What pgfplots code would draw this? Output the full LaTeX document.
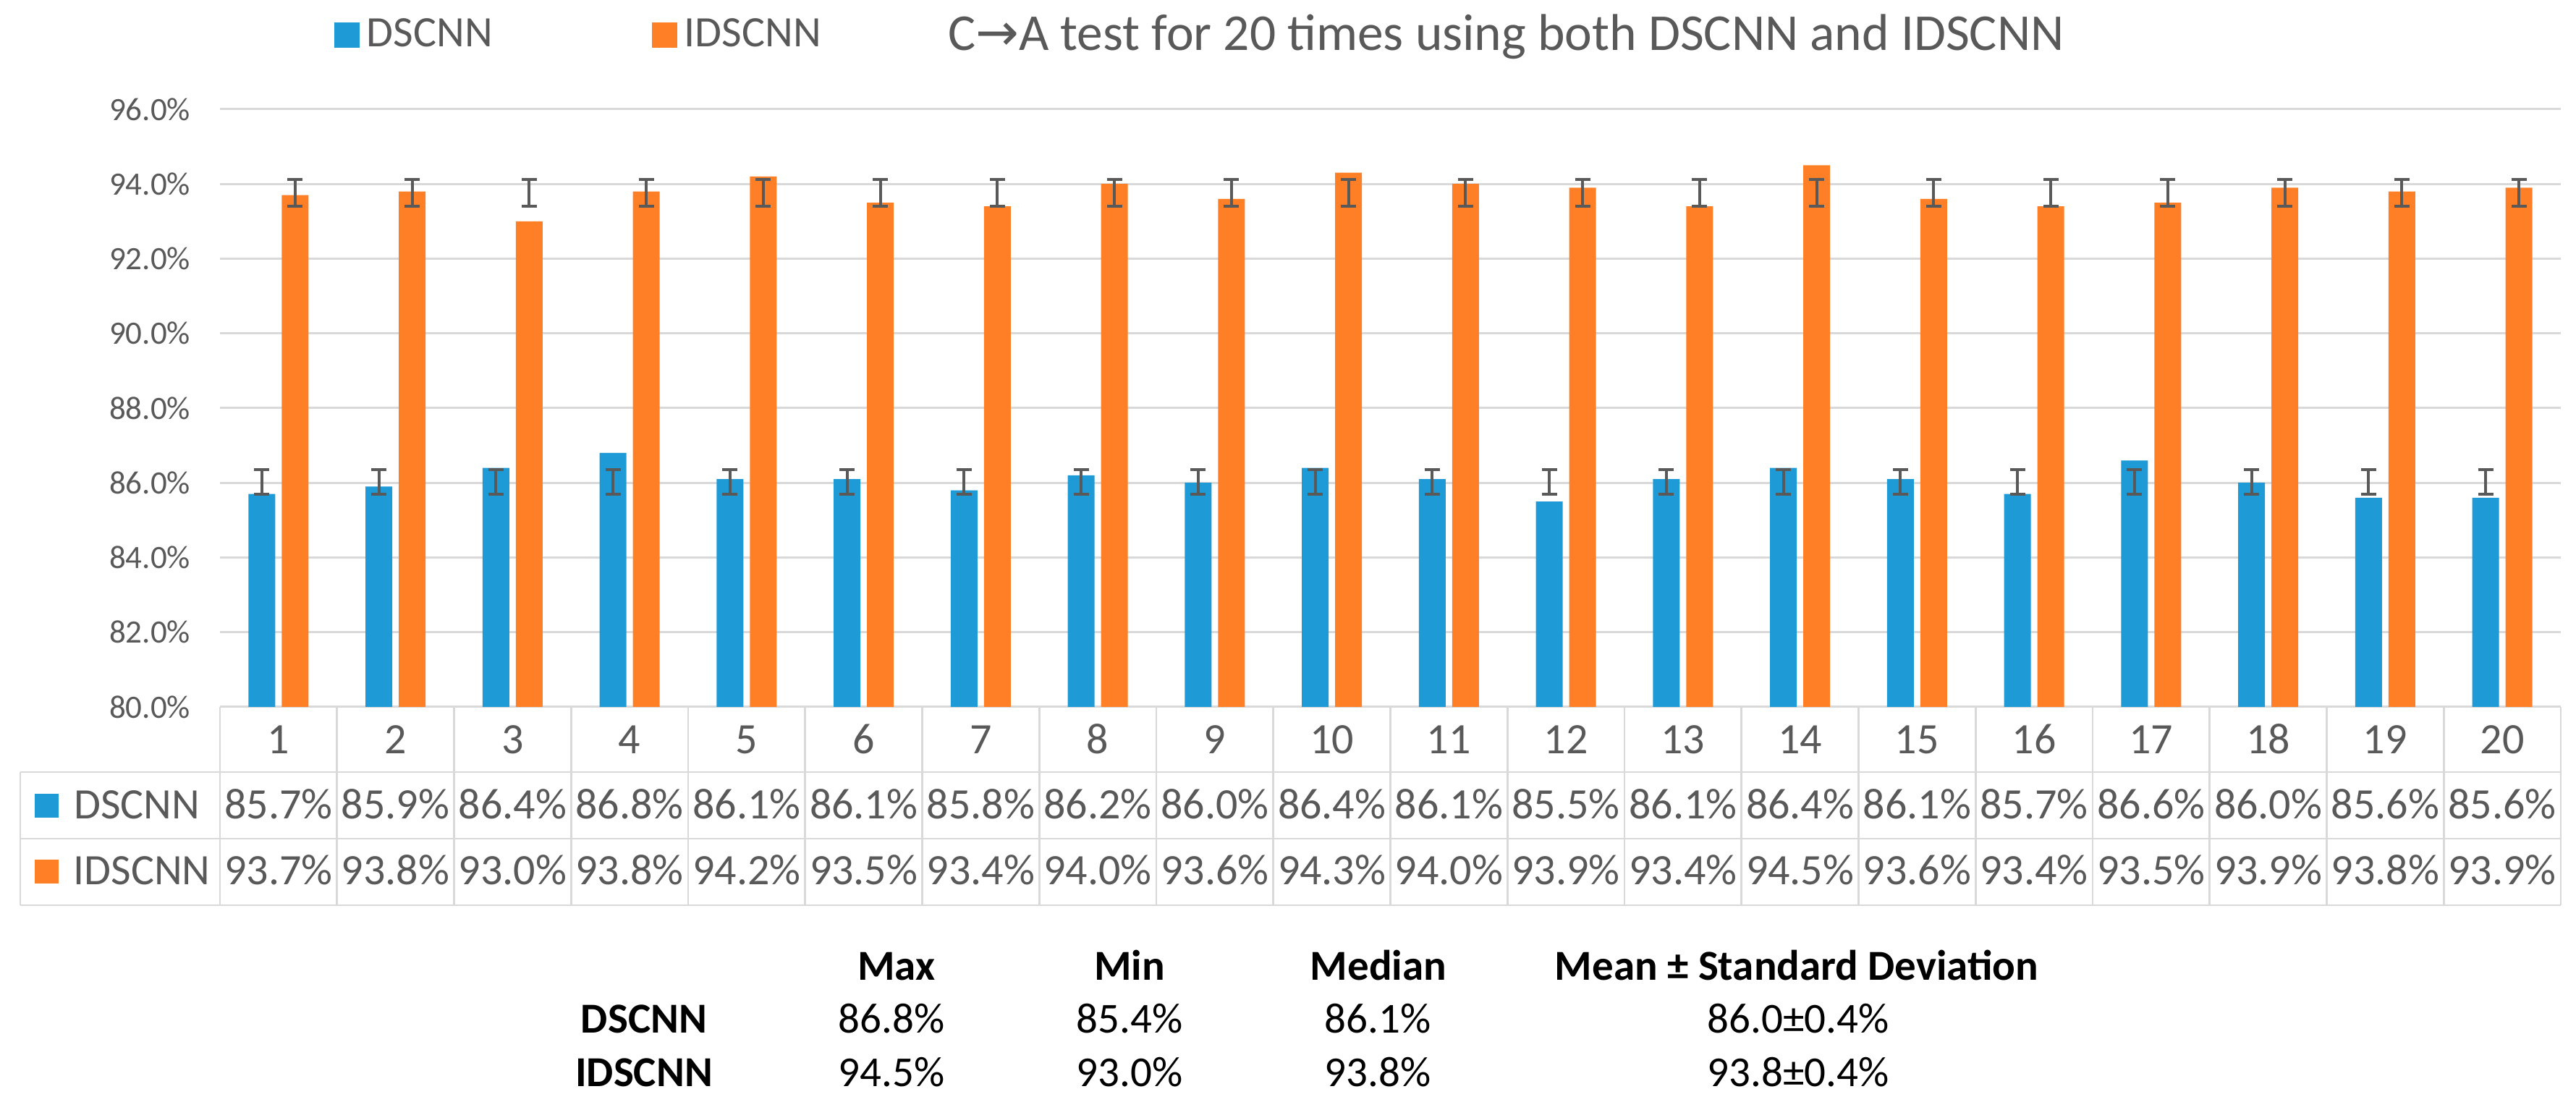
\documentclass[border=0pt]{standalone}
\usepackage{fontspec}
\setmainfont{Carlito}
\newfontfamily\dejavu{DejaVu Sans}
\usepackage{pgfplots}
\usepackage{pgfplotstable}
\pgfplotsset{compat=1.18}
\pgfkeys{/pgf/number format/assume math mode=true}

\definecolor{dsblue}{HTML}{1E9BD7}
\definecolor{idsorange}{HTML}{FF7F27}
\definecolor{txt}{HTML}{595959}
\definecolor{gridc}{HTML}{D9D9D9}
\definecolor{errc}{HTML}{595959}
\newcommand\fs[1]{\fontsize{#1}{#1}\selectfont}

% accuracy of each of the 20 runs (percent)
\pgfplotstableread{
run ds   ids
1   85.7 93.7
2   85.9 93.8
3   86.4 93.0
4   86.8 93.8
5   86.1 94.2
6   86.1 93.5
7   85.8 93.4
8   86.2 94.0
9   86.0 93.6
10  86.4 94.3
11  86.1 94.0
12  85.5 93.9
13  86.1 93.4
14  86.4 94.5
15  86.1 93.6
16  85.7 93.4
17  86.6 93.5
18  86.0 93.9
19  85.6 93.8
20  85.6 93.9
}\runs

\pgfplotsset{
  sqlegend/.style={legend image code/.code={\fill[##1] (0pt,-3.5pt) rectangle (7pt,3.5pt);}},
  errbar/.style={forget plot, draw=none, mark=none,
    error bars/.cd, y dir=both, y fixed=#1, error mark=-,
    error bar style={draw=errc, line width=0.8pt},
    error mark options={draw=errc, line width=0.8pt, mark size=2.1pt, rotate=90}},
}

\begin{document}
\begin{tikzpicture}
\path[use as bounding box] (0pt,0pt) rectangle (712pt,306.8pt);
\begin{axis}[
  at={(60.8pt,111.4pt)}, anchor=south west,
  width=647pt, height=165.2pt, scale only axis,
  xmin=0.5, xmax=20.5, ymin=80, ymax=96,
  xtick={1,...,20}, ytick={80,82,...,96},
  yticklabel={\pgfmathprintnumber[fixed,fixed zerofill,precision=1]{\tick}\%},
  yticklabel style={font=\fs{9}, text=txt, anchor=east, inner sep=0pt, xshift=-8pt},
  xticklabel style={font=\fs{12}, text=txt, anchor=base, inner sep=0pt, yshift=-13pt},
  major tick length=0pt,
  axis x line*=bottom, axis y line*=left,
  x axis line style={draw=gridc, line width=0.6pt},
  y axis line style={draw=none},
  ymajorgrids, grid style={draw=gridc, line width=0.6pt},
  clip=false,
  legend style={draw=none, fill=none, inner sep=0pt,
    at={(axis description cs:0.0485,1.1235)}, anchor=west,
    font=\fs{12}, text=txt,
    /tikz/every even column/.append style={column sep=42pt}},
  legend columns=-1,
]
\addplot[ybar, bar width=7.4pt, bar shift=-4.6pt, fill=dsblue, draw=none, sqlegend]
  table[x=run, y=ds] {\runs};
\addplot[ybar, bar width=7.4pt, bar shift=4.6pt, fill=idsorange, draw=none, sqlegend]
  table[x=run, y=ids] {\runs};
\legend{DSCNN, IDSCNN}

% error bars: mean +- standard deviation over the 20 runs,
% drawn at the centre of each bar (bar offset 4.6pt = 0.142 x units)
\addplot[errbar=0.33] coordinates {
  (0.858,86.03)(1.858,86.03)(2.858,86.03)(3.858,86.03)(4.858,86.03)
  (5.858,86.03)(6.858,86.03)(7.858,86.03)(8.858,86.03)(9.858,86.03)
  (10.858,86.03)(11.858,86.03)(12.858,86.03)(13.858,86.03)(14.858,86.03)
  (15.858,86.03)(16.858,86.03)(17.858,86.03)(18.858,86.03)(19.858,86.03)};
\addplot[errbar=0.36] coordinates {
  (1.142,93.76)(2.142,93.76)(3.142,93.76)(4.142,93.76)(5.142,93.76)
  (6.142,93.76)(7.142,93.76)(8.142,93.76)(9.142,93.76)(10.142,93.76)
  (11.142,93.76)(12.142,93.76)(13.142,93.76)(14.142,93.76)(15.142,93.76)
  (16.142,93.76)(17.142,93.76)(18.142,93.76)(19.142,93.76)(20.142,93.76)};
\end{axis}

% title
\node[anchor=base west, inner sep=0pt, font=\fs{14.3}, text=txt] at (261.8pt,292.8pt)
  {C{\dejavu →}A test for 20 times using both DSCNN and IDSCNN};

% data table under the axis
\begin{scope}[draw=gridc, line width=0.55pt]
  \draw (5.6pt,93.4pt) -- (707.8pt,93.4pt);
  \draw (5.6pt,75.0pt) -- (707.8pt,75.0pt);
  \draw (5.6pt,56.6pt) -- (707.8pt,56.6pt);
  \draw (5.6pt,56.6pt) -- (5.6pt,93.4pt);
  \foreach \k in {0,...,20} {
    \pgfmathsetmacro\lx{60.8+\k*32.35}
    \draw (\lx pt,56.6pt) -- (\lx pt,111.4pt);
  }
\end{scope}
\fill[dsblue] (9.5pt,80.8pt) rectangle (16.1pt,87.4pt);
\fill[idsorange] (9.5pt,62.6pt) rectangle (16.1pt,69.2pt);
\node[anchor=base west, inner sep=0pt, font=\fs{12}, text=txt] at (20.3pt,80.4pt) {DSCNN};
\node[anchor=base west, inner sep=0pt, font=\fs{12}, text=txt] at (20.1pt,62.2pt) {IDSCNN};
\foreach \r in {0,...,19} {
  \pgfmathsetmacro\cx{60.8+(\r+0.5)*32.35}
  \pgfplotstablegetelem{\r}{ds}\of\runs \edef\vds{\pgfplotsretval}
  \pgfplotstablegetelem{\r}{ids}\of\runs \edef\vids{\pgfplotsretval}
  \node[anchor=base, inner sep=0pt, font=\fs{12}, text=txt] at (\cx pt,80.4pt)
    {\pgfmathprintnumber[fixed,fixed zerofill,precision=1]{\vds}\%};
  \node[anchor=base, inner sep=0pt, font=\fs{12}, text=txt] at (\cx pt,62.2pt)
    {\pgfmathprintnumber[fixed,fixed zerofill,precision=1]{\vids}\%};
}

% summary statistics
\begin{scope}[every node/.style={anchor=base, inner sep=0pt, font=\fs{11.8}, text=black}]
  \node[font=\fs{11.8}\bfseries] at (247.8pt,35.8pt) {Max};
  \node[font=\fs{11.8}\bfseries] at (312.2pt,35.8pt) {Min};
  \node[font=\fs{11.8}\bfseries] at (381.0pt,35.8pt) {Median};
  \node[font=\fs{11.8}\bfseries] at (496.6pt,35.8pt) {Mean ± Standard Deviation};
  \node[font=\fs{11.8}\bfseries] at (178pt,21.2pt) {DSCNN};
  \node[font=\fs{11.8}\bfseries] at (178pt,6.4pt) {IDSCNN};
  \node at (246.4pt,21.2pt) {86.8\%};
  \node at (312.2pt,21.2pt) {85.4\%};
  \node at (380.8pt,21.2pt) {86.1\%};
  \node at (497pt,21.2pt) {86.0±0.4\%};
  \node at (246.4pt,6.4pt) {94.5\%};
  \node at (312.2pt,6.4pt) {93.0\%};
  \node at (380.8pt,6.4pt) {93.8\%};
  \node at (497pt,6.4pt) {93.8±0.4\%};
\end{scope}
\end{tikzpicture}
\end{document}
